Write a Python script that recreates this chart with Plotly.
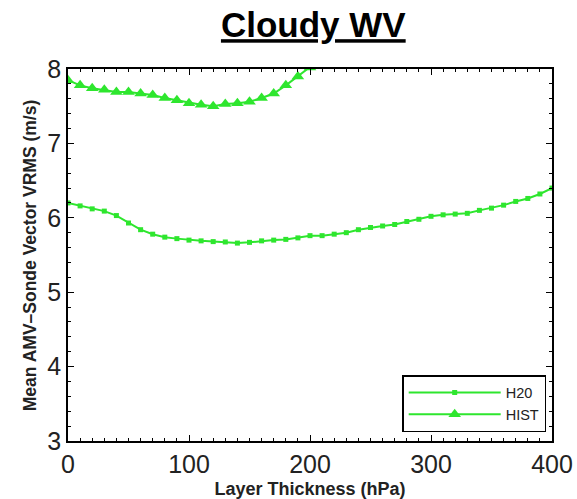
import plotly.graph_objects as go

# Data
h2o_x = list(range(0, 401, 10))
h2o_y = [6.20, 6.16, 6.12, 6.09, 6.03, 5.93, 5.84, 5.78, 5.74, 5.72,
         5.70, 5.69, 5.68, 5.675, 5.66, 5.67, 5.69, 5.70, 5.71, 5.73,
         5.76, 5.76, 5.78, 5.80, 5.84, 5.87, 5.89, 5.91, 5.95, 5.98,
         6.02, 6.04, 6.05, 6.06, 6.10, 6.13, 6.17, 6.22, 6.26, 6.32, 6.40]
hist_x = list(range(0, 211, 10))
hist_y = [7.85, 7.78, 7.74, 7.72, 7.69, 7.69, 7.67, 7.65, 7.61, 7.58,
          7.54, 7.52, 7.50, 7.53, 7.54, 7.56, 7.61, 7.67, 7.78, 7.90,
          8.02, 8.15]
x_ticks = [0, 100, 200, 300, 400]
y_ticks = [3, 4, 5, 6, 7, 8]

green = "#2ee62e"
font = "Liberation Sans, Arial, sans-serif"

fig = go.Figure()
fig.add_trace(go.Scatter(x=h2o_x, y=h2o_y, name="H20", mode="lines+markers",
                         line=dict(color=green, width=2),
                         marker=dict(symbol="square", size=5, color=green)))
fig.add_trace(go.Scatter(x=hist_x, y=hist_y, name="HIST", mode="lines+markers",
                         line=dict(color=green, width=2),
                         marker=dict(symbol="triangle-up", size=11, color=green)))

axis_common = dict(showline=True, linecolor="black", linewidth=1.5, mirror="ticks",
                   ticks="inside", ticklen=6, tickcolor="black", showgrid=False,
                   zeroline=False, automargin=False,
                   tickfont=dict(size=25, color="#222", family=font))
fig.update_xaxes(range=[0, 400], tickvals=x_ticks,
                 minor=dict(ticks="inside", dtick=10, ticklen=3, tickcolor="black"),
                 title=dict(text="<b>Layer Thickness (hPa)</b>", font=dict(size=18, family=font, color="#222")),
                 **axis_common)
fig.update_yaxes(range=[3, 8], tickvals=y_ticks,
                 minor=dict(ticks="inside", dtick=0.2, ticklen=3, tickcolor="black"),
                 **axis_common)

fig.add_annotation(text="<b>Mean AMV–Sonde Vector VRMS (m/s)</b>", textangle=-90,
                   xref="paper", yref="paper", x=-0.078, y=0.5, xanchor="center", yanchor="middle",
                   showarrow=False, font=dict(size=17.5, family=font, color="#222"))

fig.update_layout(
    width=577, height=499,
    margin=dict(l=68, r=25, t=69, b=58),
    paper_bgcolor="white", plot_bgcolor="white",
    title=dict(text="<b><u>Cloudy WV</u></b>", x=0.543, xanchor="center", y=0.95, yanchor="middle",
               font=dict(size=35, family=font, color="black")),
    legend=dict(x=0.988, y=0.024, xanchor="right", yanchor="bottom",
                bordercolor="black", borderwidth=1.5, bgcolor="white",
                font=dict(size=14.5, family=font, color="#222"),
                itemwidth=92, tracegroupgap=0),
    showlegend=True,
)

fig.write_html("out.html")
